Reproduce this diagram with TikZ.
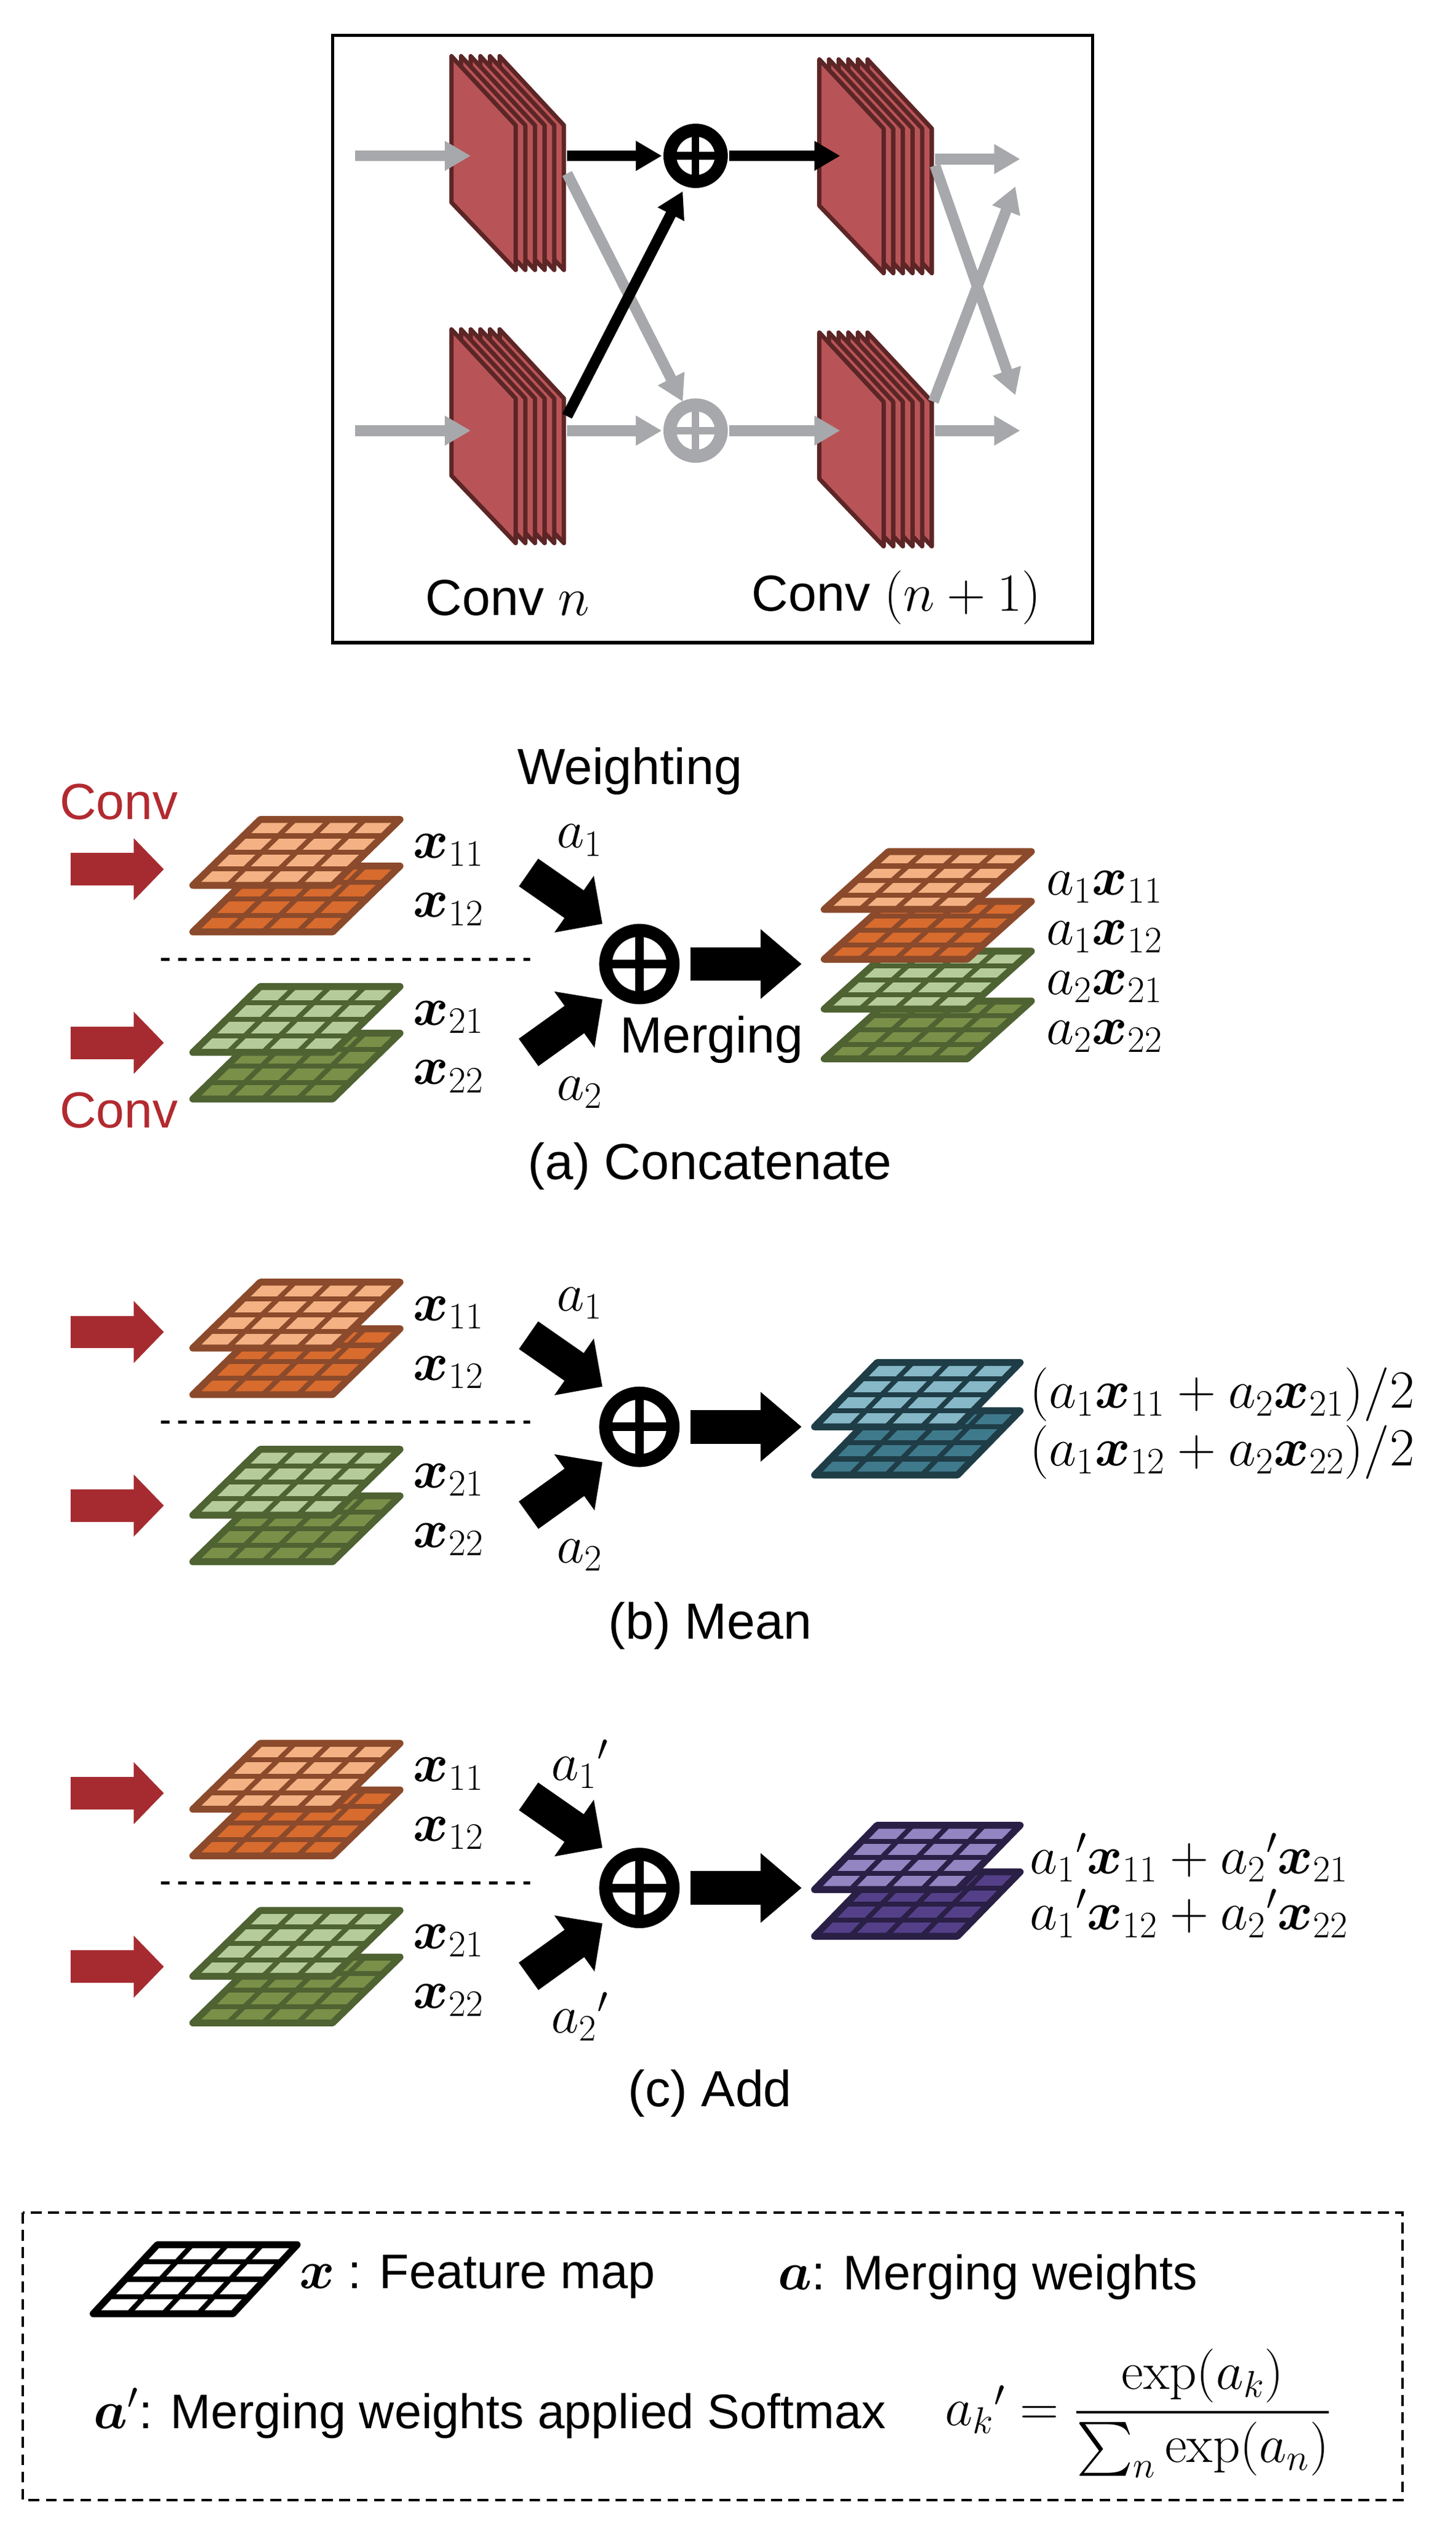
\documentclass[tikz,border=0pt]{standalone}
\usepackage{amsmath,bm}
\usepackage[no-math]{fontspec}
\setmainfont{Liberation Sans}
\usetikzlibrary{arrows.meta,calc}
\definecolor{blkfill}{HTML}{B85457}
\definecolor{blkedge}{HTML}{5C2526}
\definecolor{garrc}{HTML}{A7A8AB}
\definecolor{redarr}{HTML}{A62B30}
\definecolor{convred}{HTML}{B22A30}
\definecolor{orL}{HTML}{F4B183}\definecolor{orD}{HTML}{D86B2E}\definecolor{orE}{HTML}{8B4A2B}
\definecolor{grL}{HTML}{B5CC9A}\definecolor{grD}{HTML}{7A9048}\definecolor{grE}{HTML}{4E6232}
\definecolor{blL}{HTML}{86B8C7}\definecolor{blD}{HTML}{3F7A8C}\definecolor{blE}{HTML}{1F3D47}
\definecolor{puL}{HTML}{9385C2}\definecolor{puD}{HTML}{544089}\definecolor{puE}{HTML}{2A1F45}
\newcommand\fmap[7]{%
 \fill[#6] (#1,#2) -- ++(#3,0) -- ++(-#4,#5) -- ++(-#3,0) -- cycle;
 \foreach \k in {1,2,3}{%
   \draw[#7,line width=2.3pt] ({#1-#4*\k/4},{#2+#5*\k/4}) -- ++(#3,0);
   \draw[#7,line width=2.3pt] ({#1+#3*\k/4},#2) -- ++(-#4,#5);}
 \draw[#7,line width=3.2pt,line join=round] (#1,#2) -- ++(#3,0) -- ++(-#4,#5) -- ++(-#3,0) -- cycle;}
\newcommand\convblock[3]{%
 \foreach \i in {5,4,...,0}{%
   \filldraw[fill=blkfill,draw=blkedge,line width=2pt,line join=round] ({#2+6*\i},#3) -- ++(0,91) -- ++(40,42) -- ++(0,-90) -- cycle;}
 \coordinate (#1) at ({#2+20},{#3+66});}
\tikzset{
 every node/.style={font=\fontsize{23.5}{28}\selectfont,inner sep=0pt},
 mth/.style={font=\fontsize{26}{30}\selectfont},
 lgd/.style={font=\fontsize{22.5}{26}\selectfont},
 garr/.style={draw=garrc,line width=5pt,-{Triangle[width=13pt,length=12pt]}},
 barr/.style={draw=black,line width=5pt,-{Triangle[width=13pt,length=12pt]}},
 redA/.style={draw=redarr,line width=15pt,-{Triangle[width=28pt,length=14pt]}},
 fat/.style={draw=black,line width=15.6pt,-{Triangle[width=31pt,length=16pt]}},
 bigA/.style={draw=black,line width=15.6pt,-{Triangle[width=31pt,length=19pt]}},
}
\newcommand\merge[3]{% dy, a-top label, a-bottom label
\begin{scope}[shift={(0,#1)}]
 \coordinate (ra1) at (44,541); \coordinate (rb1) at (102,541);
 \coordinate (ra2) at (44,649); \coordinate (rb2) at (102,649);
 \draw[redA] (ra1) -- (rb1);
 \draw[redA] (ra2) -- (rb2);
 \fmap{162}{539}{87}{42}{41}{orD}{orE}
 \fmap{162}{510}{87}{42}{41}{orL}{orE}
 \fmap{162}{643}{87}{42}{41}{grD}{grE}
 \fmap{162}{614}{87}{42}{41}{grL}{grE}
 \node[mth,anchor=west] (x11) at (257,529) {$\bm{x}_{11}$};
 \node[mth,anchor=west] (x12) at (257,566) {$\bm{x}_{12}$};
 \node[mth,anchor=west] (x21) at (257,633) {$\bm{x}_{21}$};
 \node[mth,anchor=west] (x22) at (257,670) {$\bm{x}_{22}$};
 \coordinate (dl) at (100,597); \coordinate (dr) at (330,597);
 \draw[line width=1.5pt,dash pattern=on 4pt off 4pt] (dl) -- (dr);
 \node[mth] (at) at (361,523) {#2};
 \node[mth] (ab) at (361,680) {#3};
 \coordinate (ft1) at (329,543); \coordinate (fh1) at (375,575);
 \coordinate (ft2) at (329,655); \coordinate (fh2) at (375,622);
 \draw[fat] (ft1) -- (fh1);
 \draw[fat] (ft2) -- (fh2);
 \coordinate (pc) at (398,600);
 \draw[line width=6pt] (pc) circle (21);
 \draw[line width=4pt] ($(pc)+(-21,0)$) -- ($(pc)+(21,0)$) ($(pc)+(0,-21)$) -- ($(pc)+(0,21)$);
 \coordinate (bt) at (430,600); \coordinate (bh) at (499,600);
 \draw[bigA] (bt) -- (bh);
\end{scope}}
\begin{document}
\begin{tikzpicture}[x=0.02615cm,y=-0.02615cm]
\useasboundingbox (0,0) rectangle (906,1569);
\draw[line width=1.5pt] (207,22) rectangle (680,400);
\convblock{c1}{281}{35}
\convblock{c2}{281}{205}
\convblock{c3}{510}{37}
\convblock{c4}{510}{207}
\coordinate (i1) at (221,97); \coordinate (i1e) at (293,97);
\coordinate (i2) at (221,268); \coordinate (i2e) at (293,268);
\draw[garr] (i1) -- (i1e);
\draw[garr] (i2) -- (i2e);
\coordinate (p1) at (433,97); \coordinate (p2) at (433,268);
\draw[garr] (353,108) -- (425,250);
\draw[garr] (353,268) -- (412,268);
\draw[garr] (454,268) -- (523,268);
\draw[garrc,line width=6pt] (p2) circle (16);
\draw[garrc,line width=3.5pt] ($(p2)+(-16,0)$) -- ($(p2)+(16,0)$) ($(p2)+(0,-16)$) -- ($(p2)+(0,16)$);
\coordinate (o1) at (635,99); \coordinate (o2) at (635,268);
\coordinate (o3) at (632,246); \coordinate (o4) at (632,116);
\draw[garr] (582,99) -- (o1);
\draw[garr] (582,268) -- (o2);
\draw[garr] (582,103) -- (o3);
\draw[garr] (581,250) -- (o4);
\draw[barr] (353,97) -- (412,97);
\draw[barr] (353,259) -- (425,119);
\draw[barr] (454,97) -- (523,97);
\draw[black,line width=6pt] (p1) circle (16);
\draw[black,line width=3.5pt] ($(p1)+(-16,0)$) -- ($(p1)+(16,0)$) ($(p1)+(0,-16)$) -- ($(p1)+(0,16)$);
\node (l1) at (316,372) {Conv {\fontsize{27}{30}\selectfont$n$}};
\node (l2) at (558,372) {Conv {\fontsize{27}{30}\selectfont$(n+1)$}};
\merge{0}{$a_1$}{$a_2$}
\node[text=convred] (cv1) at (74,499) {Conv};
\node[text=convred] (cv2) at (74,691) {Conv};
\node (wt) at (392,480) {Weighting};
\node (mg) at (443,647) {Merging};
\fmap{553}{623}{89}{40}{36}{grD}{grE}
\fmap{553}{592}{89}{40}{36}{grL}{grE}
\fmap{553}{561}{89}{40}{36}{orD}{orE}
\fmap{553}{530}{89}{40}{36}{orL}{orE}
\node[mth,anchor=west] (oa1) at (651,552) {$a_1\bm{x}_{11}$};
\node[mth,anchor=west] (oa2) at (651,583) {$a_1\bm{x}_{12}$};
\node[mth,anchor=west] (oa3) at (651,614) {$a_2\bm{x}_{21}$};
\node[mth,anchor=west] (oa4) at (651,645) {$a_2\bm{x}_{22}$};
\node (capa) at (442,726) {(a) Concatenate};
\merge{288}{$a_1$}{$a_2$}
\fmap{546}{878}{89}{39}{40}{blD}{blE}
\fmap{546}{848}{89}{39}{40}{blL}{blE}
\node[mth,anchor=west] (ob1) at (641,868) {$(a_1\bm{x}_{11}+a_2\bm{x}_{21})/2$};
\node[mth,anchor=west] (ob2) at (641,904) {$(a_1\bm{x}_{12}+a_2\bm{x}_{22})/2$};
\node (capb) at (442,1012) {(b) Mean};
\merge{575}{$a_1{}'$}{$a_2{}'$}
\fmap{546}{1165}{89}{39}{40}{puD}{puE}
\fmap{546}{1136}{89}{39}{40}{puL}{puE}
\node[mth,anchor=west] (oc1) at (641,1156) {$a_1{}'\bm{x}_{11}+a_2{}'\bm{x}_{21}$};
\node[mth,anchor=west] (oc2) at (641,1191) {$a_1{}'\bm{x}_{12}+a_2{}'\bm{x}_{22}$};
\node (capc) at (442,1303) {(c) Add};
\draw[line width=1.2pt,dash pattern=on 5pt off 3pt] (14,1377) rectangle (873,1556);
\fmap{98}{1397}{87}{40}{43}{white}{black}
\node[lgd,anchor=west] (lg1) at (186,1417) {{\fontsize{25}{28}\selectfont$\bm{x}$} : Feature map};
\node[lgd,anchor=west] (lg2) at (484,1417) {{\fontsize{25}{28}\selectfont$\bm{a}$}: Merging weights};
\node[lgd,anchor=west] (lg3) at (58,1502) {{\fontsize{25}{28}\selectfont$\bm{a}'$}: Merging weights applied Softmax};
\node[anchor=west,font=\fontsize{27}{30}\selectfont] (lg4) at (588,1502) {$a_k{}' = \dfrac{\exp(a_k)}{\sum_n \exp(a_n)}$};
\end{tikzpicture}
\end{document}
